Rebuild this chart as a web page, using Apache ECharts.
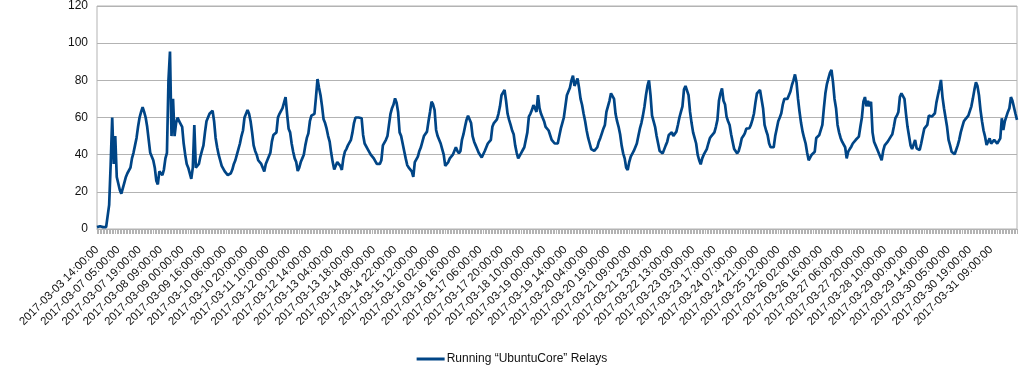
<!DOCTYPE html>
<html>
<head>
<meta charset="utf-8">
<script src="https://cdn.jsdelivr.net/npm/echarts@6/dist/echarts.min.js"></script>
<style>
html,body{margin:0;padding:0;background:#fff;}
#chart{width:1024px;height:367px;}
</style>
</head>
<body>
<div id="chart"></div>
<script>
// Tick labels shown on the x axis (every 14th hourly category)
var tickLabels = ['2017-03-03 14:00:00','2017-03-07 05:00:00','2017-03-07 19:00:00','2017-03-08 09:00:00','2017-03-09 00:00:00','2017-03-09 16:00:00','2017-03-10 06:00:00','2017-03-10 20:00:00','2017-03-11 10:00:00','2017-03-12 00:00:00','2017-03-12 14:00:00','2017-03-13 04:00:00','2017-03-13 18:00:00','2017-03-14 08:00:00','2017-03-14 22:00:00','2017-03-15 12:00:00','2017-03-16 02:00:00','2017-03-16 16:00:00','2017-03-17 06:00:00','2017-03-17 20:00:00','2017-03-18 10:00:00','2017-03-19 00:00:00','2017-03-19 14:00:00','2017-03-20 04:00:00','2017-03-20 19:00:00','2017-03-21 09:00:00','2017-03-21 23:00:00','2017-03-22 13:00:00','2017-03-23 03:00:00','2017-03-23 17:00:00','2017-03-24 07:00:00','2017-03-24 21:00:00','2017-03-25 12:00:00','2017-03-26 02:00:00','2017-03-26 16:00:00','2017-03-27 06:00:00','2017-03-27 20:00:00','2017-03-28 10:00:00','2017-03-29 00:00:00','2017-03-29 14:00:00','2017-03-30 05:00:00','2017-03-30 19:00:00','2017-03-31 09:00:00'];

var seriesName = 'Running \u201cUbuntuCore\u201d Relays';

// Hourly values
var relays = [
1,1,1.5,1.5,1,1,1,1,13,35,
60,35,50,28,27,21,19,22,25,28,
30,31,33,38,41,45,49,55,60,63,
65.5,63,60,55,48,41,39,37,33,26,
24,31,32,29,32,38,41,80,95.5,50,
70,50,57,60,58,57,55,46,40,35,
33,32,27,33,56,33,32,35,39,42,
45,52,58,60,62,63,63.7,58,49,44,
40,37,34,33,31,30,29,28.5,30,32,
35,37,40,43,46,50,53,60,62,64,
62,58,52,45,42,40,37,36,35,33,
31,35,37,39,41,47,50.6,50,52,60,
62,63,65,68,71,62,54,52,46,41.6,
38,36,31.2,33,36,38,40,45,49,51.5,
58,61,60,62,71,80.7,76,72,66,59,
57,54,50,47,41,36,32,34,36,36.5,
34,31.8,38,41.6,43,45,46,48,52,57,
60,60.5,60,60,59.6,50.6,46,45,43,42,
40,39.8,38,36.5,35,34,35,37,45,46,
48,50,56,62,65,67,70.3,68,63,52,
50,49,42,38,34.4,33,32.7,31,28,36,
37,39,42,44,47,50,51,52.4,58,63,
68.5,67,64,53.3,50,48,46,43,40,34,
35,36,38,39,40,42,44,42,40.7,42,
48,51,55,58.7,61,62,57,50,47,45,
43,41,40,38.5,38,42,44,46,45,48,
55,57,58,59,62,66,72,73,74.8,69,
62,58.7,56,53,51,45,41,38,38.9,41,
42.5,44,45,52,60.5,62,64,66.7,65,63,
72,65,62,63,58,55,54,53,54,48,
47,46,47,46,50,54,57,60,66,72,
74,76,80,82.5,77,79,81,76,70,66.7,
62,58,53,49,46,43,42.5,42,43,44,
47,49,51.5,54,56,63,66,69,73,72,
70,62,58,55,51,45,40.7,38,33,31.8,
36,39,38,42,44,46,50,54,57,61,
65.8,72,77,80,72,61,58,55,50,46,
42,41,40.7,41.6,45,47,50.6,51,52,50,
51,52.4,56,60,63,66,75,77,76,72,
63,57,52,49,46,40,37,34.8,38,40,
40.7,43,46,48.8,50,51,52,55,58.7,69,
73,75.7,69,67,60.5,58,56,51,47,43,
42,40.7,42,45,48.8,50,51.5,54,55,54.2,
56,58.7,62,68,73,74,74.8,74,65,56,
53,50.6,46,44,43,44,50,54,58,60,
62.3,67,70,70.3,70,71,74,77.5,80,83.2,
79,70,63,57,52.4,49,46,41,37,36.2,
40,41,41.6,49,50,50.6,49.7,56,65,73,
78,81,84,85.6,79,70,65,56,52,49,
47,46,44,38,41.6,43,44.3,46,47,48,
49,49.7,55,60,68.5,71,66,69,66,68.5,
52,47,45,43,41,39,37,42,45,46,
47,48,49.7,51,55,59.6,61,63,71.2,73,
72,70,62,55,50,45,43,42.5,47.9,43.4,
43,42.5,46,50,54,55,56,61,61,60.5,
61,62.3,68,72,75.7,80.2,71,65,60,55,
48,45,41.6,41,40.2,41,45,48,52,55,
57.8,59,60,61,62,66,70.3,75,79,77,
72,64,58,53,49.7,45.2,47,48.8,46,47,
47.9,47,46,47,48.8,59.6,53.3,58,60.5,63,
65,71,69,68.5,62,58.7
];

// Build hourly category labels: 14 hourly steps from each tick label
function pad(n){return (n<10?'0':'')+n;}
function fmt(d){
  return d.getUTCFullYear()+'-'+pad(d.getUTCMonth()+1)+'-'+pad(d.getUTCDate())+' '+pad(d.getUTCHours())+':00:00';
}
var categories = [];
for (var k=0;k<tickLabels.length;k++){
  var t = tickLabels[k];
  var base = Date.UTC(+t.slice(0,4), +t.slice(5,7)-1, +t.slice(8,10), +t.slice(11,13));
  var steps = (k<tickLabels.length-1) ? 14 : (relays.length - categories.length);
  for (var s=0;s<steps;s++){
    categories.push(s===0 ? t : fmt(new Date(base + s*3600000)));
  }
}
var lastLabelIndex = (tickLabels.length-1)*14;

var chart = echarts.init(document.getElementById('chart'), null, {renderer:'canvas'});
chart.setOption({
  animation:false,
  backgroundColor:'#ffffff',
  grid:{left:97,right:7,top:6,bottom:138,show:true,borderColor:'#b3b3b3',borderWidth:1,containLabel:false},
  legend:{
    data:[{name:seriesName,icon:'rect'}],
    left:'center',top:348,
    itemWidth:28,itemHeight:3,itemGap:10,
    textStyle:{fontFamily:'Liberation Sans',fontSize:12,color:'#111',padding:[0,0,0,-3]}
  },
  xAxis:{
    type:'category',
    data:categories,
    boundaryGap:false,
    axisLine:{show:true,lineStyle:{color:'#b3b3b3',width:1}},
    axisTick:{show:true,interval:0,length:5,lineStyle:{color:'#b3b3b3',width:1}},
    axisLabel:{
      interval:function(idx){return idx%14===0 && idx<=lastLabelIndex;},
      rotate:45,margin:19,fontFamily:'Liberation Sans',fontSize:11.5,color:'#111'
    },
    splitLine:{show:false}
  },
  yAxis:{
    type:'value',
    min:0,max:120,interval:20,
    axisLine:{show:false},
    axisTick:{show:false},
    axisLabel:{margin:9,fontFamily:'Liberation Sans',fontSize:12,color:'#111'},
    splitLine:{show:true,lineStyle:{color:'#b3b3b3',width:1}}
  },
  series:[{
    name:seriesName,
    type:'line',
    data:relays,
    showSymbol:false,
    symbol:'none',
    lineStyle:{color:'#004586',width:2.7},
    itemStyle:{color:'#004586'}
  }]
});
</script>
</body>
</html>
